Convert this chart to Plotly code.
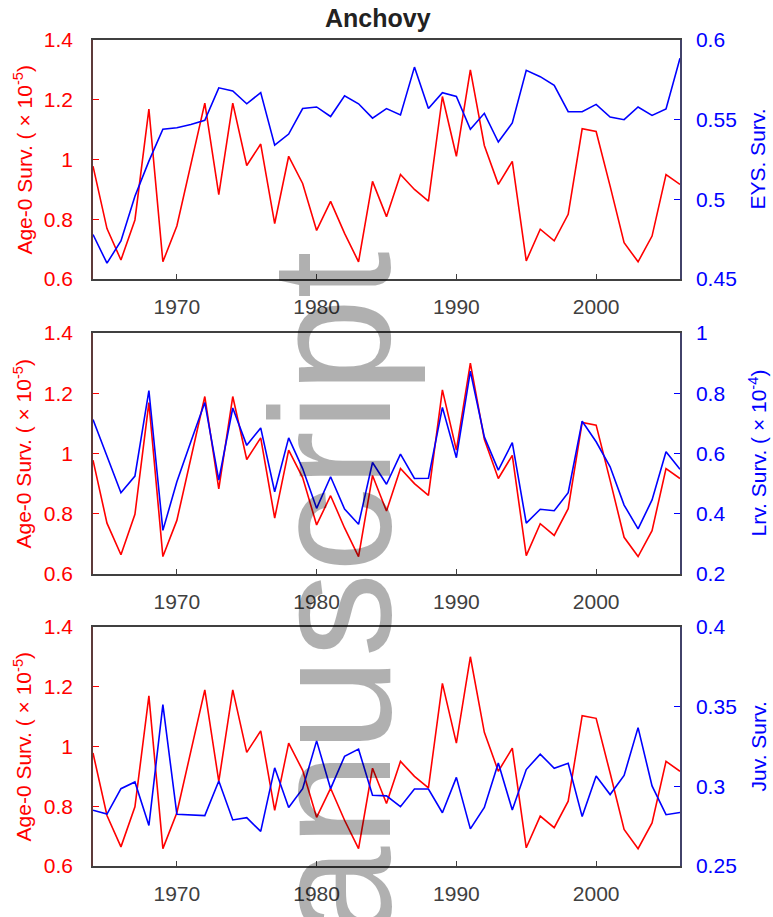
import plotly.graph_objects as go

years = list(range(1964, 2007))

age0_surv = [0.978, 0.769, 0.664, 0.798, 1.169, 0.658, 0.778, 0.98, 1.189, 0.883,
             1.189, 0.98, 1.052, 0.786, 1.011, 0.92, 0.763, 0.86, 0.753, 0.658,
             0.927, 0.809, 0.95, 0.9, 0.861, 1.211, 1.011, 1.3, 1.047, 0.917,
             0.994, 0.661, 0.767, 0.728, 0.817, 1.103, 1.094, 0.911, 0.722, 0.658,
             0.744, 0.95, 0.917]

eys_surv = [0.478, 0.46, 0.474, 0.502, 0.524, 0.544, 0.545, 0.547, 0.5496,
            0.57, 0.568, 0.56, 0.567, 0.534, 0.541, 0.557, 0.558, 0.552, 0.565, 0.56, 0.551, 0.557,
            0.553, 0.583, 0.557, 0.567, 0.5646, 0.544, 0.554, 0.536, 0.548, 0.581, 0.577,
            0.5715, 0.555, 0.555, 0.5596, 0.5517, 0.55, 0.558, 0.5527, 0.5567, 0.5885]

lrv_surv = [0.713, 0.589, 0.47, 0.525, 0.809, 0.345, 0.506, 0.639, 0.769, 0.512, 0.751,
            0.627, 0.685, 0.473, 0.652, 0.55, 0.418, 0.523, 0.416, 0.365, 0.57, 0.498,
            0.598, 0.517, 0.518, 0.753, 0.586, 0.873, 0.655, 0.545, 0.636, 0.369, 0.415,
            0.41, 0.47, 0.707, 0.639, 0.556, 0.429, 0.35, 0.446, 0.606, 0.548]

juv_surv = [0.285, 0.2826, 0.2985, 0.3027, 0.2754, 0.3512, 0.2824, 0.2822, 0.2816, 0.3033,
            0.2789, 0.2803, 0.2717, 0.3116, 0.2867, 0.2985, 0.3285, 0.2985, 0.3188, 0.3233,
            0.2944, 0.294,
            0.2872, 0.2983, 0.2983, 0.2834, 0.3056, 0.2733, 0.2867, 0.3146, 0.2851, 0.3105,
            0.3202, 0.3113, 0.3144, 0.281, 0.3064, 0.2948, 0.3068, 0.3368, 0.3002, 0.2822,
            0.2836]

x_ticks = [1970, 1980, 1990, 2000]
left_ticks = [0.6, 0.8, 1.0, 1.2, 1.4]
left_ticktext = ["0.6", "0.8", "1", "1.2", "1.4"]
eys_ticks = [0.45, 0.5, 0.55, 0.6]
eys_ticktext = ["0.45", "0.5", "0.55", "0.6"]
lrv_ticks = [0.2, 0.4, 0.6, 0.8, 1.0]
lrv_ticktext = ["0.2", "0.4", "0.6", "0.8", "1"]
juv_ticks = [0.25, 0.3, 0.35, 0.4]
juv_ticktext = ["0.25", "0.3", "0.35", "0.4"]

title_text = "Anchovy"
left_title = "Age-0 Surv. ( \u00d7 10<sup>-5</sup>)"
right_titles = ["EYS. Surv.", "Lrv. Surv. ( \u00d7 10<sup>-4</sup>)", "Juv. Surv."]
watermark = "manuscript"

RED = "#ff0000"
BLUE = "#0000ff"
DARK = "#404040"
FONT = "Liberation Sans"

W, H = 773, 917
ML, MR, MT, MB = 93, 93, 40, 48
PW, PH = W - ML - MR, H - MT - MB

def py(pix):
    return (H - MB - pix) / PH

def px(pix):
    return (pix - ML) / PW

domains = [[py(280), 1.0], [py(576), py(334)], [0.0, py(629)]]

fig = go.Figure()
right_series = [eys_surv, lrv_surv, juv_surv]
for i in range(3):
    xa = "x" if i == 0 else f"x{i+1}"
    yl = "y" if i == 0 else f"y{2*i+1}"
    yr = f"y{2*i+2}"
    fig.add_trace(go.Scatter(x=years, y=age0_surv, xaxis=xa, yaxis=yl, mode="lines",
                             line=dict(color=RED, width=1.6), showlegend=False))
    fig.add_trace(go.Scatter(x=years, y=right_series[i], xaxis=xa, yaxis=yr, mode="lines",
                             line=dict(color=BLUE, width=1.6), showlegend=False))

right_specs = [(eys_ticks, eys_ticktext, [0.45, 0.6]),
               (lrv_ticks, lrv_ticktext, [0.2, 1.0]),
               (juv_ticks, juv_ticktext, [0.25, 0.4])]

layout = dict(width=W, height=H, margin=dict(l=ML, r=MR, t=MT, b=MB),
              paper_bgcolor="white", plot_bgcolor="white", showlegend=False,
              font=dict(family=FONT, size=21))

for i in range(3):
    xkey = "xaxis" if i == 0 else f"xaxis{i+1}"
    ylkey = "yaxis" if i == 0 else f"yaxis{2*i+1}"
    yrkey = f"yaxis{2*i+2}"
    ylname = "y" if i == 0 else f"y{2*i+1}"
    xname = "x" if i == 0 else f"x{i+1}"
    layout[xkey] = dict(domain=[0, 1], anchor=ylname, range=[1964, 2006],
                        tickmode="array", tickvals=x_ticks, ticks="inside", ticklen=5,
                        tickcolor=DARK, tickwidth=1, showline=True, linecolor=DARK,
                        linewidth=1.5, mirror=True, showgrid=False, zeroline=False,
                        tickfont=dict(color=DARK, size=21, family=FONT),
                        ticklabelstandoff=8)
    layout[ylkey] = dict(domain=domains[i], anchor=xname, range=[0.6, 1.4],
                         tickmode="array", tickvals=left_ticks, ticktext=left_ticktext,
                         ticks="inside", ticklen=6, tickcolor=RED, tickwidth=1,
                         showline=True, linecolor="#5e3a3a", linewidth=1.5,
                         showgrid=False, zeroline=False,
                         tickfont=dict(color=RED, size=21, family=FONT),
                         ticklabelstandoff=14)
    tv, tt, rg = right_specs[i]
    layout[yrkey] = dict(overlaying=ylname, anchor=xname, side="right", range=rg,
                         tickmode="array", tickvals=tv, ticktext=tt,
                         ticks="inside", ticklen=6, tickcolor=BLUE, tickwidth=1,
                         showline=True, linecolor="#42426a", linewidth=1.5,
                         showgrid=False, zeroline=False,
                         tickfont=dict(color=BLUE, size=21, family=FONT),
                         ticklabelstandoff=10)

fig.update_layout(**layout)

annotations = []
for i in range(3):
    ymid = (domains[i][0] + domains[i][1]) / 2
    annotations.append(dict(text=left_title, xref="paper", yref="paper", x=px(23), y=ymid,
                            xanchor="center", yanchor="middle", textangle=-90,
                            showarrow=False, font=dict(color=RED, size=21, family=FONT)))
    annotations.append(dict(text=right_titles[i], xref="paper", yref="paper", x=px(758), y=ymid,
                            xanchor="center", yanchor="middle", textangle=-90,
                            showarrow=False, font=dict(color=BLUE, size=21, family=FONT)))

annotations.append(dict(text="<b>" + title_text + "</b>", xref="paper", yref="paper",
                        x=px(378), y=py(18), xanchor="center", yanchor="middle",
                        showarrow=False, font=dict(color="#222222", size=25, family=FONT)))

annotations.append(dict(text=watermark, xref="paper", yref="paper", x=px(331), y=py(670),
                        xanchor="center", yanchor="middle", textangle=-90, showarrow=False,
                        font=dict(color="rgba(0,0,0,0.31)", size=170, family=FONT)))

fig.update_layout(annotations=annotations)

fig.write_html("out.html", config={"displayModeBar": False},
               post_script="document.body.style.margin='0';")
